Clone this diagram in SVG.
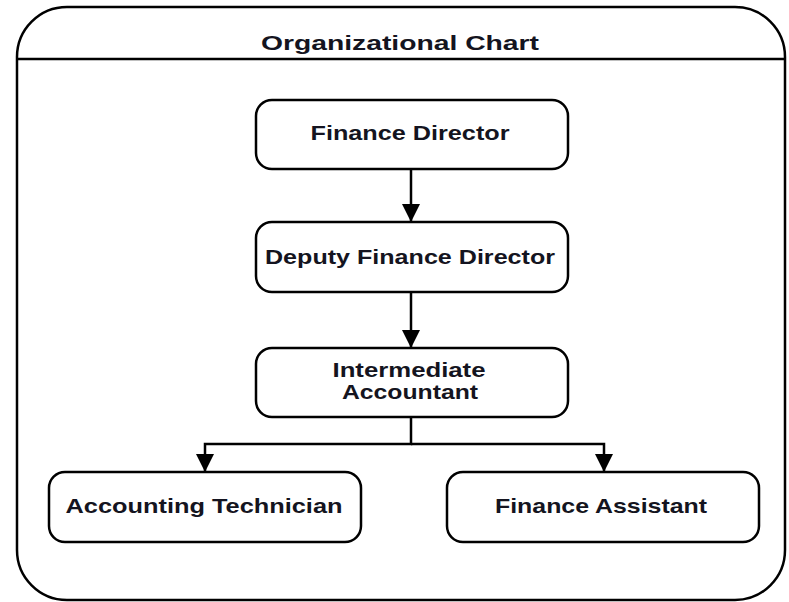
<svg xmlns="http://www.w3.org/2000/svg" width="789" height="602" viewBox="0 0 789 602">
<style>
.box{fill:#fff;stroke:#000;stroke-width:2.5}
.lbl{font-family:"Liberation Sans",Arial,sans-serif;font-weight:bold;font-size:21px;fill:#141420;text-anchor:middle}
.con{fill:none;stroke:#000;stroke-width:2.5}
</style>
<defs>
<marker id="arr" markerUnits="userSpaceOnUse" markerWidth="18" markerHeight="18" viewBox="0 0 16 16" refX="16" refY="8" orient="auto">
<path d="M0,0 L16,8 L0,16 Z" fill="#000"/>
</marker>
</defs>
<g id="container">
<rect x="17" y="7" width="768" height="593" rx="50" ry="50" class="box"/>
<line x1="17" y1="59" x2="785" y2="59" stroke="#000" stroke-width="2.5"/>
<text x="400" y="50" class="lbl" textLength="278" lengthAdjust="spacingAndGlyphs">Organizational Chart</text>
</g>
<g id="connectors">
<line x1="411" y1="169" x2="411" y2="222" class="con" marker-end="url(#arr)"/>
<line x1="411" y1="292" x2="411" y2="348" class="con" marker-end="url(#arr)"/>
<polyline points="411,417 411,444 205,444 205,472" class="con" marker-end="url(#arr)"/>
<polyline points="411,444 604,444 604,472" class="con" marker-end="url(#arr)"/>
</g>
<g id="finance-director">
<rect x="256" y="100" width="312" height="69" rx="16" class="box"/>
<text x="410" y="140" class="lbl" textLength="199" lengthAdjust="spacingAndGlyphs">Finance Director</text>
</g>
<g id="deputy-finance-director">
<rect x="256" y="222" width="312" height="70" rx="16" class="box"/>
<text x="410" y="264" class="lbl" textLength="290" lengthAdjust="spacingAndGlyphs">Deputy Finance Director</text>
</g>
<g id="intermediate-accountant">
<rect x="256" y="348" width="312" height="69" rx="16" class="box"/>
<text x="409" y="377" class="lbl" textLength="153" lengthAdjust="spacingAndGlyphs">Intermediate</text>
<text x="410" y="399" class="lbl" textLength="136" lengthAdjust="spacingAndGlyphs">Accountant</text>
</g>
<g id="accounting-technician">
<rect x="49" y="472" width="312" height="70" rx="16" class="box"/>
<text x="204" y="513" class="lbl" textLength="277" lengthAdjust="spacingAndGlyphs">Accounting Technician</text>
</g>
<g id="finance-assistant">
<rect x="447" y="472" width="312" height="70" rx="16" class="box"/>
<text x="601" y="513" class="lbl" textLength="212" lengthAdjust="spacingAndGlyphs">Finance Assistant</text>
</g>
</svg>
